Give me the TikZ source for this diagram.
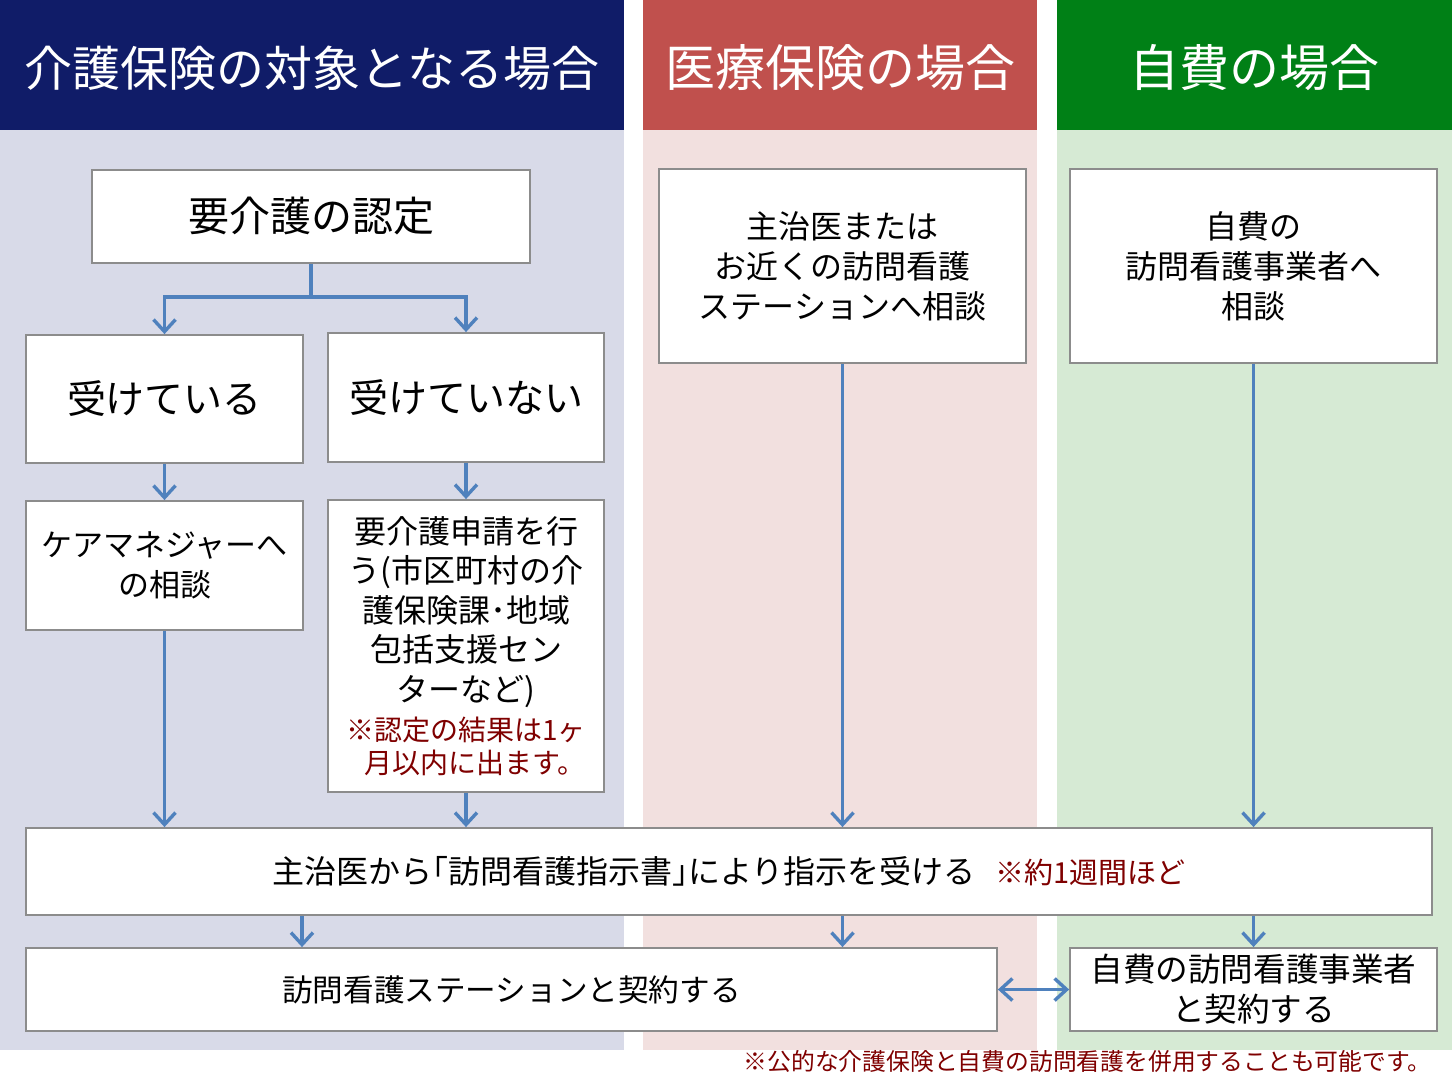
\documentclass[tikz,border=0pt]{standalone}
\usepackage{fontspec}
\setmainfont{Noto Sans CJK JP}
\usetikzlibrary{arrows.meta}
\definecolor{navyh}{RGB}{16,28,104}
\definecolor{navyb}{RGB}{216,218,232}
\definecolor{redh}{RGB}{192,80,77}
\definecolor{redb}{RGB}{242,224,223}
\definecolor{greenh}{RGB}{0,128,22}
\definecolor{greenb}{RGB}{214,234,212}
\definecolor{arrowc}{RGB}{79,129,189}
\definecolor{boxline}{RGB}{140,140,140}
\definecolor{notec}{RGB}{127,0,0}
\tikzset{
  box/.style 2 args={draw=boxline, line width=0.9pt, fill=white, inner sep=0pt, align=center, text=black,
     minimum width=#1*0.5pt, minimum height=#2*0.5pt},
  headtxt/.style={text=white, font=\fontsize{#1}{28}\selectfont},
  conn/.style={draw=arrowc, line width=1.7pt},
  tipb/.tip={Straight Barb[length=6pt,width=11pt,line width=1.7pt]},
  arr/.style={conn, -tipb},
  darr/.style={conn, tipb-tipb},
}
\begin{document}
\begin{tikzpicture}[x=0.5pt,y=-0.5pt]
\useasboundingbox (0,0) rectangle (1452,1085);
\fill[white] (0,0) rectangle (1452,1085);
% columns
\fill[navyb] (0,130) rectangle (624,1050);
\fill[redb] (643,130) rectangle (1037,1050);
\fill[greenb] (1057,130) rectangle (1452,1050);
\fill[navyh] (0,0) rectangle (624,130);
\fill[redh] (643,0) rectangle (1037,130);
\fill[greenh] (1057,0) rectangle (1452,130);
\node[headtxt=24] (h1) at (312,68) {介護保険の対象となる場合};
\node[headtxt=25] (h2) at (840,68) {医療保険の場合};
\node[headtxt=25] (h3) at (1254,68) {自費の場合};
% boxes
\node[box={438}{93}, font=\fontsize{20.5}{24}\selectfont] (A) at (311,216.5) {要介護の認定};
\node[box={277}{128}, font=\fontsize{19.5}{24}\selectfont] (B1) at (164.5,399) {受けている};
\node[box={276}{129}, font=\fontsize{19.5}{24}\selectfont] (B2) at (466,397.5) {受けていない};
\node[box={277}{129}, font=\fontsize{15.5}{20}\selectfont] (C1) at (164.5,565.5) {ケアマネジャーへ\\の相談};
\node[box={276}{292}, font=\fontsize{16}{19.75}\selectfont] (C2) at (466,646) {要介護申請を行\\う(市区町村の介\\護保険課･地域\\包括支援セン\\ターなど)\\{\color{notec}\fontsize{14}{16.5}\selectfont ※認定の結果は1ヶ}\\[-3.5pt]{\color{notec}\fontsize{14}{16.5}\selectfont \hspace*{9pt}月以内に出ます。}};
\node[box={367}{194}, font=\fontsize{16}{20}\selectfont] (M) at (842.5,266) {主治医または\\お近くの訪問看護\\ステーションへ相談};
\node[box={367}{194}, font=\fontsize{16}{20}\selectfont] (G) at (1253.5,266) {自費の\\訪問看護事業者へ\\相談};
\node[box={1406}{87}, font=\fontsize{16}{20}\selectfont] (L) at (729,871.5) {主治医から｢訪問看護指示書｣により指示を受ける\hspace{10pt}{\color{notec}\fontsize{14.5}{18}\selectfont ※約1週間ほど}};
\node[box={971}{83}, font=\fontsize{15.3}{20}\selectfont] (S) at (511.5,989.5) {訪問看護ステーションと契約する};
\node[box={367}{83}, font=\fontsize{16.3}{20}\selectfont] (J) at (1253.5,989.5) {自費の訪問看護事業者\\と契約する};
\node[anchor=east, text=notec, font=\fontsize{11.9}{14}\selectfont, inner sep=0pt] (note) at (1432,1062) {※公的な介護保険と自費の訪問看護を併用することも可能です。};
% connectors
\coordinate (br) at (311,297);
\coordinate (c1) at (302,0);
\draw[conn] (A.south) -- (br);
\draw[arr] (br) -| (B1.north);
\draw[arr] (br) -| (B2.north);
\draw[arr] (B1.south) -- (C1.north);
\draw[arr] (B2.south) -- (C2.north);
\draw[arr] (C1.south) -- (L.north -| C1.south);
\draw[arr] (C2.south) -- (L.north -| C2.south);
\draw[arr] (M.south) -- (L.north -| M.south);
\draw[arr] (G.south) -- (L.north -| G.south);
\draw[arr] (L.south -| c1) -- (S.north -| c1);
\draw[arr] (L.south -| M.south) -- (S.north -| M.south);
\draw[arr] (L.south -| J.north) -- (J.north);
\draw[darr] (S.east) -- (J.west);
\end{tikzpicture}
\end{document}
